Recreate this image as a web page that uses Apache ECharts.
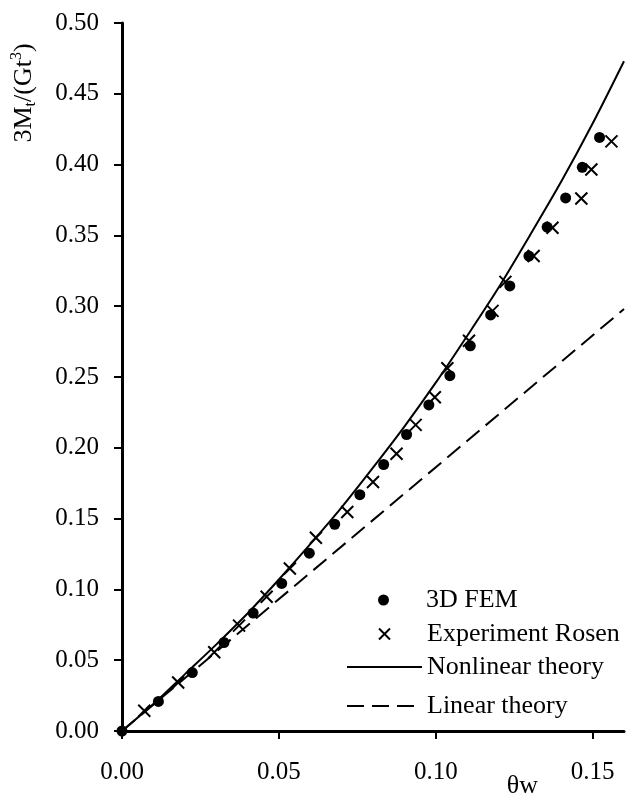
<!DOCTYPE html>
<html>
<head>
<meta charset="utf-8">
<title>Torque vs twist</title>
<script src="https://cdn.jsdelivr.net/npm/echarts@6/dist/echarts.min.js"></script>
<style>
  html, body { margin: 0; padding: 0; background: #fff; }
  #chart { width: 627px; height: 799px; }
</style>
</head>
<body>
<div id="chart"></div>
<script>
// 3D FEM results
const thetaFem = [0, 0.0116, 0.0224, 0.0325, 0.0418, 0.0509, 0.0597, 0.0678, 0.0758, 0.0834, 0.0907,
  0.0978, 0.1045, 0.1110, 0.1175, 0.1236, 0.1297, 0.1355, 0.1414, 0.1467, 0.1522];
const torqueFem = [0, 0.0209, 0.0413, 0.0625, 0.0833, 0.1042, 0.1256, 0.1460, 0.1669, 0.1882, 0.2094,
  0.2303, 0.2509, 0.2720, 0.2938, 0.3143, 0.3354, 0.3559, 0.3765, 0.3981, 0.4192];

// Experiment (Rosen)
const thetaRosen = [0.0071, 0.0179, 0.0294, 0.0373, 0.0461, 0.0535, 0.0618, 0.0718, 0.0800, 0.0875,
  0.0936, 0.0997, 0.1037, 0.1106, 0.1181, 0.1222, 0.1312, 0.1372, 0.1464, 0.1496, 0.1560];
const torqueRosen = [0.0143, 0.0343, 0.0556, 0.0744, 0.0948, 0.1148, 0.1365, 0.1547, 0.1758, 0.1958,
  0.2162, 0.2357, 0.2562, 0.2756, 0.2967, 0.3172, 0.3354, 0.3554, 0.3761, 0.3965, 0.4164];

// Nonlinear theory curve
const thetaNonlinear = [0, 0.01, 0.02, 0.03, 0.04, 0.05, 0.06, 0.07, 0.08, 0.09, 0.10, 0.11, 0.12,
  0.13, 0.14, 0.15, 0.16];
const torqueNonlinear = [0, 0.019, 0.040, 0.061, 0.083, 0.107, 0.132, 0.158, 0.186, 0.215, 0.246,
  0.279, 0.313, 0.350, 0.388, 0.429, 0.473];

// Linear theory
const thetaLinear = [0, 0.16];
const torqueLinear = [0, 0.298];

// Axis ticks
const xTickValues = [0, 0.05, 0.10, 0.15];
const yTickValues = [0, 0.05, 0.10, 0.15, 0.20, 0.25, 0.30, 0.35, 0.40, 0.45, 0.50];

const seriesNames = ['3D FEM', 'Experiment Rosen', 'Nonlinear theory', 'Linear theory'];

const FONT = "'Liberation Serif', 'Times New Roman', serif";
const DASH = [17, 8];
const pairs = (xs, ys) => xs.map((x, i) => [x, ys[i]]);

const chart = echarts.init(document.getElementById('chart'), null, { renderer: 'canvas' });

// One legend block per entry so each row sits exactly where wanted;
// line entries show only the stroke, without a marker in the middle
const legendTops = [585, 619, 652, 691];
const legendLefts = [378, 378, 346, 346];
const hiddenMarker = { color: 'rgba(0,0,0,0)', borderColor: 'rgba(0,0,0,0)', borderWidth: 0 };
const legendEntry = [
  seriesNames[0],
  seriesNames[1],
  { name: seriesNames[2], itemStyle: hiddenMarker, lineStyle: { color: '#000', width: 2, type: 'solid' } },
  { name: seriesNames[3], itemStyle: hiddenMarker, lineStyle: { color: '#000', width: 2, type: DASH } }
];
const legends = legendEntry.map((entry, i) => ({
  data: [entry],
  orient: 'vertical',
  left: legendLefts[i],
  top: legendTops[i],
  itemWidth: 75,
  itemHeight: 11,
  padding: 0,
  selectedMode: false,
  textStyle: { fontFamily: FONT, fontSize: 26, color: '#000', lineHeight: 30 }
}));

chart.setOption({
  animation: false,
  backgroundColor: '#fff',
  textStyle: { fontFamily: FONT },
  grid: { left: 122, right: 3, top: 23, bottom: 66, containLabel: false },
  legend: legends,
  graphic: [{
    type: 'text',
    x: 24,
    y: 93,
    rotation: Math.PI / 2,
    style: {
      text: '{m|3M}{s|t}{m|/(Gt}{p|3}{m|)}',
      align: 'center',
      verticalAlign: 'middle',
      fill: '#000',
      rich: {
        m: { fontFamily: FONT, fontSize: 26, lineHeight: 30, fill: '#000' },
        s: { fontFamily: FONT, fontSize: 16, verticalAlign: 'bottom', lineHeight: 30, fill: '#000' },
        p: { fontFamily: FONT, fontSize: 16, verticalAlign: 'top', lineHeight: 24, fill: '#000' }
      }
    }
  }],
  xAxis: {
    type: 'value',
    min: 0,
    max: 0.16,
    name: 'θw',
    nameLocation: 'end',
    nameGap: -86,
    nameTextStyle: {
      fontFamily: FONT, fontSize: 26, color: '#000',
      align: 'right', verticalAlign: 'top', padding: [42, 0, 0, 0]
    },
    axisLine: { lineStyle: { color: '#000', width: 3 } },
    axisTick: { show: true, length: 8, lineStyle: { color: '#000', width: 2 }, customValues: xTickValues },
    axisLabel: {
      fontFamily: FONT, fontSize: 25, color: '#000', margin: 29,
      customValues: xTickValues,
      formatter: v => v.toFixed(2)
    },
    splitLine: { show: false }
  },
  yAxis: {
    type: 'value',
    min: 0,
    max: 0.5,
    interval: 0.05,
    axisLine: { show: true, lineStyle: { color: '#000', width: 3 } },
    axisTick: { show: true, length: 8, lineStyle: { color: '#000', width: 2 }, customValues: yTickValues },
    axisLabel: {
      fontFamily: FONT, fontSize: 25, color: '#000', margin: 23,
      customValues: yTickValues,
      formatter: v => v.toFixed(2)
    },
    splitLine: { show: false }
  },
  series: [
    {
      name: seriesNames[2],
      type: 'line',
      data: pairs(thetaNonlinear, torqueNonlinear),
      symbol: 'none',
      smooth: 0.3,
      lineStyle: { color: '#000', width: 2 },
      itemStyle: { color: '#000' },
      z: 3
    },
    {
      name: seriesNames[3],
      type: 'line',
      data: pairs(thetaLinear, torqueLinear),
      symbol: 'none',
      lineStyle: { color: '#000', width: 2, type: DASH },
      itemStyle: { color: '#000' },
      z: 3
    },
    {
      name: seriesNames[0],
      type: 'scatter',
      data: pairs(thetaFem, torqueFem),
      symbol: 'circle',
      symbolSize: 11,
      clip: false,
      itemStyle: { color: '#000', opacity: 1 },
      z: 4
    },
    {
      name: seriesNames[1],
      type: 'scatter',
      data: pairs(thetaRosen, torqueRosen),
      symbol: 'path://M0,0L10,10M10,0L0,10',
      symbolSize: 12,
      clip: false,
      itemStyle: { color: '#000', borderColor: '#000', borderWidth: 2, opacity: 1 },
      z: 4
    }
  ]
});
</script>
</body>
</html>
